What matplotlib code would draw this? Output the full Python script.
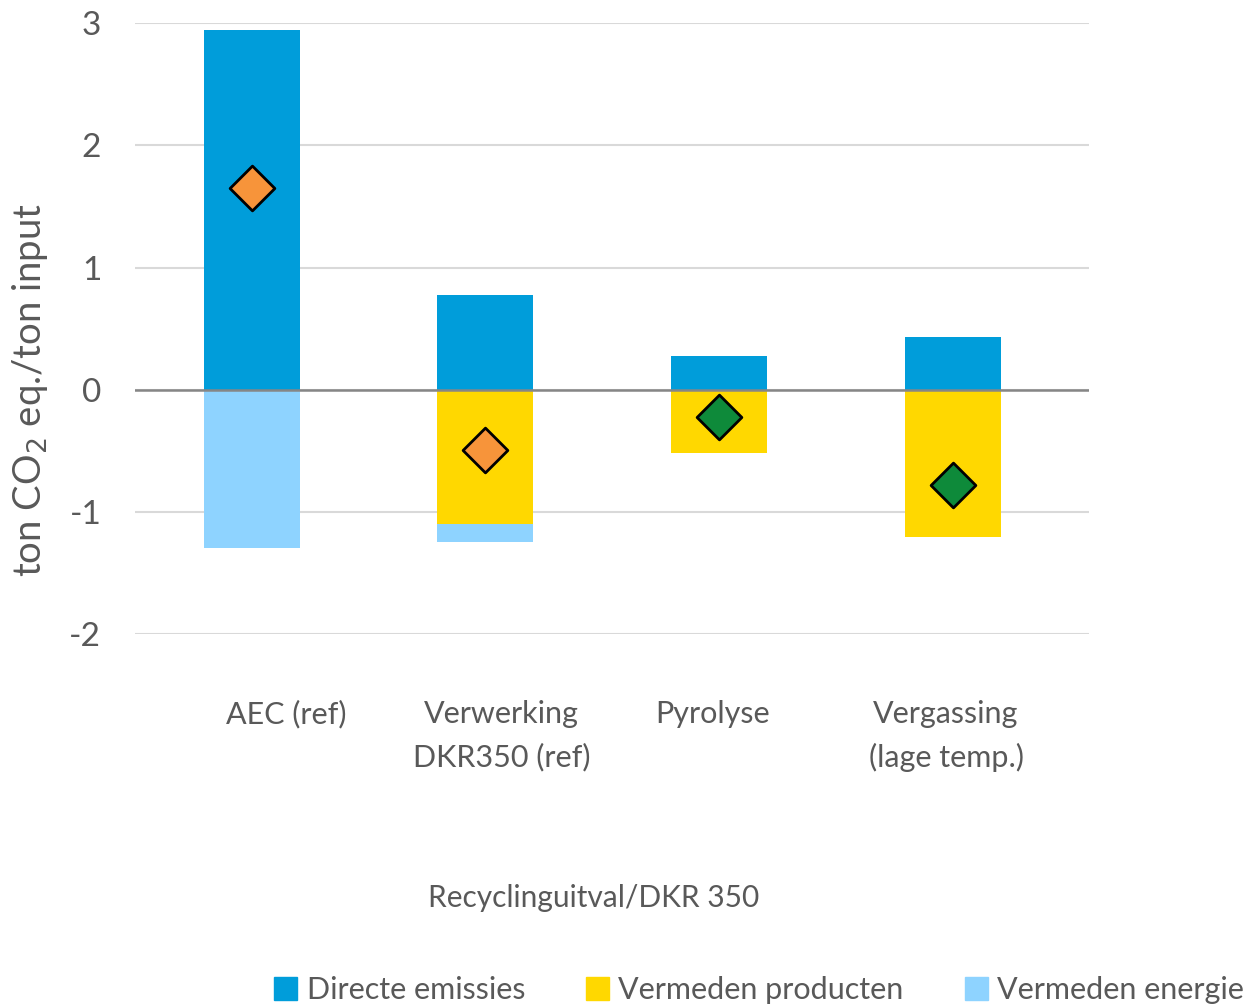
import numpy as np
import matplotlib.pyplot as plt
from matplotlib.patches import Patch

plt.rcParams['font.family'] = ['Lato', 'DejaVu Sans']
txtcol = '#595959'

categories = ['AEC (ref)', 'Verwerking\nDKR350 (ref)', 'Pyrolyse', 'Vergassing\n(lage temp.)']
directe = [2.94, 0.78, 0.28, 0.43]
producten = [0.0, -1.10, -0.52, -1.20]
energie = [-1.29, -0.14, 0.0, 0.0]
netto = [1.65, -0.49, -0.22, -0.78]
marker_colors = ['#F7943A', '#F7943A', '#0E8A3A', '#0E8A3A']
label_pos = [0.15, 1.07, 1.97, 2.97]

c_dir = '#009DDA'
c_prod = '#FFD800'
c_en = '#8ED3FF'

fig = plt.figure(figsize=(12.47, 10.07), dpi=100)
ax = fig.add_axes([0.108, 0.370, 0.765, 0.607])

x = np.arange(len(categories))
w = 0.41
ax.bar(x, directe, w, color=c_dir, zorder=2)
ax.bar(x, producten, w, color=c_prod, zorder=2)
ax.bar(x, energie, w, bottom=producten, color=c_en, zorder=2)

for i in range(len(x)):
    ax.scatter(x[i], netto[i], marker='D', s=520, color=marker_colors[i],
               edgecolors='black', linewidths=2, zorder=4)

ax.set_xlim(-0.50, 3.58)
ax.set_ylim(-2, 3)
ax.set_yticks([-2, -1, 0, 1, 2, 3])
ax.set_yticklabels(['-2', '-1', '0', '1', '2', '3'], fontsize=24, color=txtcol)
ax.tick_params(axis='y', length=0, pad=24)
ax.set_xticks(label_pos)
ax.set_xticklabels(categories, fontsize=22, color=txtcol, linespacing=1.65)
ax.tick_params(axis='x', length=0, pad=47)

ax.grid(axis='y', color='#D9D9D9', lw=1.5, zorder=0)
ax.axhline(0, color='#868686', lw=1.8, zorder=3)
for s in ax.spines.values():
    s.set_visible(False)

ax.set_ylabel('ton CO$_2$ eq./ton input', fontsize=27.5, color=txtcol)
ax.yaxis.set_label_coords(-0.089, 0.40)

fig.text(594 / 1247, 1 - 898 / 1007, 'Recyclinguitval/DKR 350', fontsize=21.5,
         color=txtcol, ha='center', va='center')

handles = [Patch(color=c_dir, label='Directe emissies'),
           Patch(color=c_prod, label='Vermeden producten'),
           Patch(color=c_en, label='Vermeden energie')]
leg = fig.legend(handles=handles, loc='center', ncol=3, frameon=False,
                 bbox_to_anchor=(759 / 1247, 1 - 990 / 1007), fontsize=22,
                 handlelength=0.75, handleheight=0.75, handletextpad=0.3,
                 columnspacing=2.0)
for t in leg.get_texts():
    t.set_color(txtcol)

fig.savefig('out.png', dpi=100)
